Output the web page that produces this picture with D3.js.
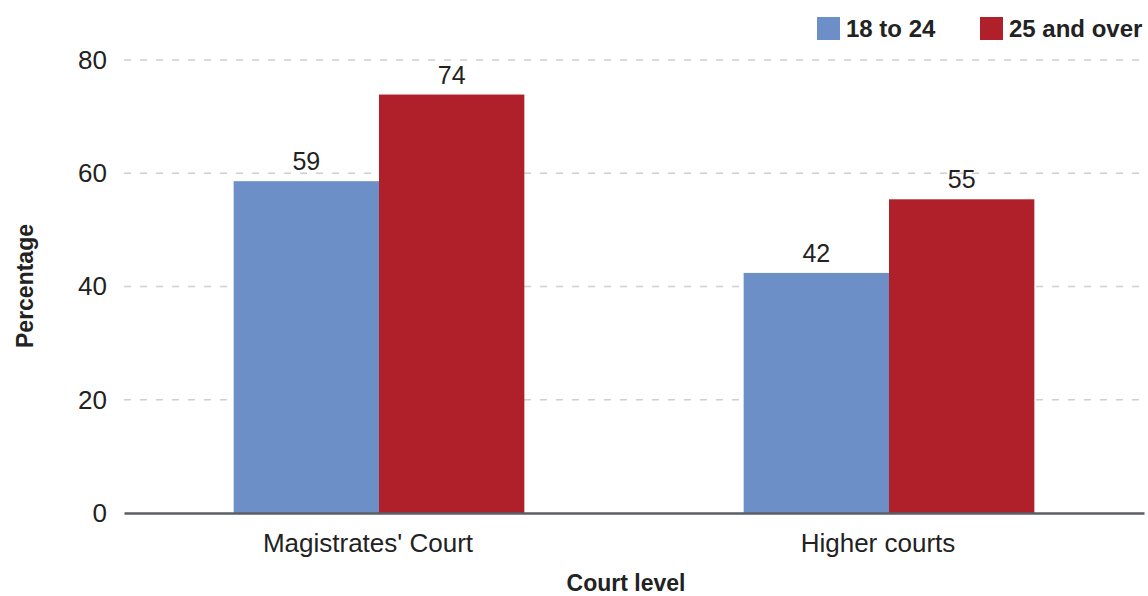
<!DOCTYPE html>
<html>
<head>
<meta charset="utf-8">
<script src="https://cdn.jsdelivr.net/npm/d3@7"></script>
<style>
  body { margin: 0; background: #fff; }
  svg { display: block; font-family: "Liberation Sans", Arial, sans-serif; }
</style>
</head>
<body>
<svg id="chart" width="1148" height="596"></svg>
<script>
// chart data
const courts = ["Magistrates' Court", "Higher courts"];
const ageGroups = ["18 to 24", "25 and over"];
const youngValues = [58.6, 42.4];
const olderValues = [73.9, 55.4];
const yTicks = [0, 20, 40, 60, 80];
const colors = ["#6d8fc8", "#b0202a"];

const rows = courts.map((c, i) => ({court: c, values: [youngValues[i], olderValues[i]]}));

const svg = d3.select("#chart");
const plotLeft = 124, plotRight = 1144, plotTop = 60, plotBottom = 513;

const x = d3.scaleBand()
    .domain(courts)
    .range([plotLeft, plotRight])
    .paddingInner(0.43)
    .paddingOuter(0.215);

const xSub = d3.scaleBand()
    .domain(ageGroups)
    .range([0, x.bandwidth()]);

const y = d3.scaleLinear()
    .domain([0, 80])
    .range([plotBottom, plotTop]);

// gridlines
svg.append("g")
    .selectAll("line")
    .data(yTicks.filter(t => t > 0))
    .join("line")
    .attr("x1", plotLeft)
    .attr("x2", plotRight)
    .attr("y1", d => y(d))
    .attr("y2", d => y(d))
    .attr("stroke", "#cfcfcf")
    .attr("stroke-width", 1.5)
    .attr("stroke-dasharray", "7,9");

// y axis labels
const yAxis = svg.append("g")
    .attr("transform", `translate(${plotLeft - 17},0)`)
    .call(d3.axisLeft(y).tickValues(yTicks).tickSize(0).tickPadding(0));
yAxis.select(".domain").remove();
yAxis.selectAll("text")
    .attr("font-size", 26)
    .attr("fill", "#222")
    .attr("font-family", "Liberation Sans, Arial, sans-serif");

// bars
const groups = svg.append("g")
    .selectAll("g")
    .data(rows)
    .join("g")
    .attr("transform", d => `translate(${x(d.court)},0)`);

groups.selectAll("rect")
    .data(d => d.values.map((v, i) => ({key: ageGroups[i], value: v, i})))
    .join("rect")
    .attr("x", d => xSub(d.key))
    .attr("width", xSub.bandwidth())
    .attr("y", d => y(d.value))
    .attr("height", d => y(0) - y(d.value))
    .attr("fill", d => colors[d.i]);

groups.selectAll("text")
    .data(d => d.values.map((v, i) => ({key: ageGroups[i], value: v})))
    .join("text")
    .attr("x", d => xSub(d.key) + xSub.bandwidth() / 2)
    .attr("y", d => y(d.value) - 11)
    .attr("text-anchor", "middle")
    .attr("font-size", 25)
    .attr("fill", "#222")
    .text(d => d3.format(".0f")(d.value));

// x axis
const xAxis = svg.append("g")
    .attr("transform", `translate(0,${plotBottom})`)
    .call(d3.axisBottom(x).tickSize(0).tickPadding(0));
xAxis.select(".domain")
    .attr("stroke", "#5a5f66")
    .attr("stroke-width", 2.5);
xAxis.selectAll("text")
    .attr("y", 39)
    .attr("dy", 0)
    .attr("dx", -11)
    .attr("font-size", 26)
    .attr("fill", "#222")
    .attr("font-family", "Liberation Sans, Arial, sans-serif");

// axis titles
svg.append("text")
    .attr("x", 626)
    .attr("y", 591)
    .attr("text-anchor", "middle")
    .attr("font-size", 23)
    .attr("font-weight", "bold")
    .attr("fill", "#222")
    .text("Court level");

svg.append("text")
    .attr("transform", "translate(33,286) rotate(-90)")
    .attr("text-anchor", "middle")
    .attr("font-size", 23)
    .attr("font-weight", "bold")
    .attr("fill", "#222")
    .text("Percentage");

// legend
const legendX = [817, 980];
const legend = svg.append("g")
    .selectAll("g")
    .data(ageGroups)
    .join("g")
    .attr("transform", (d, i) => `translate(${legendX[i]},17)`);

legend.append("rect")
    .attr("width", 23)
    .attr("height", 23)
    .attr("fill", (d, i) => colors[i]);

legend.append("text")
    .attr("x", 29)
    .attr("y", 20)
    .attr("font-size", 24)
    .attr("font-weight", "bold")
    .attr("fill", "#222")
    .text(d => d);
</script>
</body>
</html>
